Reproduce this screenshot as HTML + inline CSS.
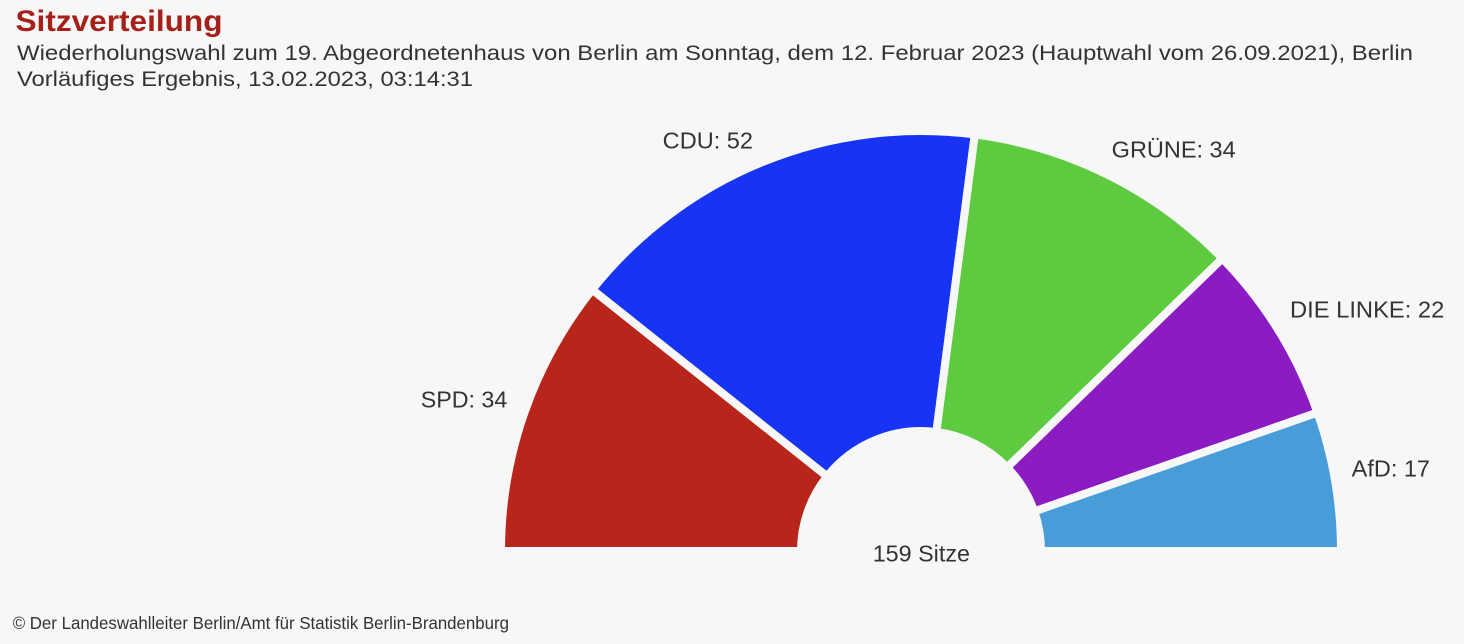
<!DOCTYPE html>
<html>
<head>
<meta charset="utf-8">
<style>
  html, body { margin: 0; padding: 0; background: #f7f7f7; }
  svg { display: block; }
  text { font-family: "Liberation Sans", Arial, sans-serif; fill: #333333; }
</style>
</head>
<body>
<svg width="1464" height="644" viewBox="0 0 1464 644" xmlns="http://www.w3.org/2000/svg">
  <rect x="0" y="0" width="1464" height="644" fill="#f7f7f7"/>

  <!-- Title & subtitle -->
  <text x="15.5" y="31" font-size="30" font-weight="bold" style="fill:#a6201a" textLength="207" lengthAdjust="spacingAndGlyphs">Sitzverteilung</text>
  <text x="17" y="60" font-size="21.5" textLength="1396" lengthAdjust="spacingAndGlyphs">Wiederholungswahl zum 19. Abgeordnetenhaus von Berlin am Sonntag, dem 12. Februar 2023 (Hauptwahl vom 26.09.2021), Berlin</text>
  <text x="17" y="86" font-size="21.5" textLength="456" lengthAdjust="spacingAndGlyphs">Vorläufiges Ergebnis, 13.02.2023, 03:14:31</text>

  <!-- Slices -->
  <g stroke="#f7f7f7" stroke-width="8" stroke-linejoin="miter">
    <path fill="#b8261b" d="M501,551 A420,420 0 0 1 592.26,289.60 L827.07,476.31 A120,120 0 0 0 801,551 Z"/>
    <path fill="#1734f5" d="M592.26,289.60 A420,420 0 0 1 974.79,134.46 L936.37,431.99 A120,120 0 0 0 827.07,476.31 Z"/>
    <path fill="#5dca3f" d="M974.79,134.46 A420,420 0 0 1 1222.35,258.45 L1007.10,467.41 A120,120 0 0 0 936.37,431.99 Z"/>
    <path fill="#8b1cc2" d="M1222.35,258.45 A420,420 0 0 1 1317.53,412.56 L1034.29,511.45 A120,120 0 0 0 1007.10,467.41 Z"/>
    <path fill="#489dd8" d="M1317.53,412.56 A420,420 0 0 1 1341,551 L1041,551 A120,120 0 0 0 1034.29,511.45 Z"/>
  </g>
  <rect x="480" y="547" width="900" height="10" fill="#f7f7f7"/>

  <!-- Labels -->
  <text x="662.7" y="148.3" font-size="23.3" textLength="90.3" lengthAdjust="spacingAndGlyphs">CDU: 52</text>
  <text x="1111.7" y="157.7" font-size="23.3" textLength="124" lengthAdjust="spacingAndGlyphs">GRÜNE: 34</text>
  <text x="1290" y="317.7" font-size="23.3" textLength="154.3" lengthAdjust="spacingAndGlyphs">DIE LINKE: 22</text>
  <text x="1351.7" y="476.7" font-size="23.3" textLength="78.3" lengthAdjust="spacingAndGlyphs">AfD: 17</text>
  <text x="420.7" y="407.7" font-size="23.3" textLength="86.6" lengthAdjust="spacingAndGlyphs">SPD: 34</text>
  <text x="872.7" y="561.7" font-size="23.3" textLength="97.3" lengthAdjust="spacingAndGlyphs">159 Sitze</text>

  <!-- Footer -->
  <text x="12.7" y="629" font-size="17.5" textLength="496.3" lengthAdjust="spacingAndGlyphs">© Der Landeswahlleiter Berlin/Amt für Statistik Berlin-Brandenburg</text>
</svg>
</body>
</html>
